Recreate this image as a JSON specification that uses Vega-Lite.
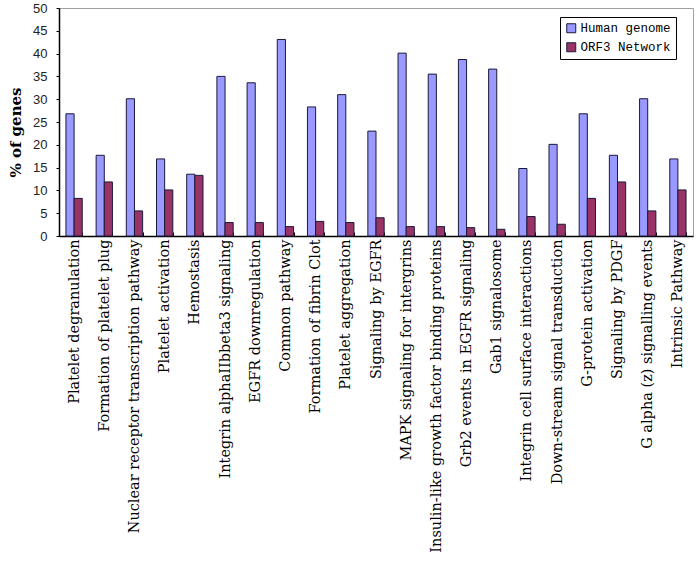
{
  "$schema": "https://vega.github.io/schema/vega-lite/v6.json",
  "width": 634,
  "height": 228,
  "autosize": "none",
  "padding": {"left": 59, "top": 8, "right": 5, "bottom": 328},
  "background": "white",
  "config": {
    "view": {"stroke": "#a0a0a0", "strokeWidth": 1},
    "axis": {"grid": false}
  },
  "data": {
    "values": [
      {"pathway": "Platelet degranulation", "series": "Human genome", "value": 26.8},
      {"pathway": "Platelet degranulation", "series": "ORF3 Network", "value": 8.25},
      {"pathway": "Formation of platelet plug", "series": "Human genome", "value": 17.7},
      {"pathway": "Formation of platelet plug", "series": "ORF3 Network", "value": 11.85},
      {"pathway": "Nuclear receptor transcription pathway", "series": "Human genome", "value": 30.1},
      {"pathway": "Nuclear receptor transcription pathway", "series": "ORF3 Network", "value": 5.5},
      {"pathway": "Platelet activation", "series": "Human genome", "value": 16.9},
      {"pathway": "Platelet activation", "series": "ORF3 Network", "value": 10.1},
      {"pathway": "Hemostasis", "series": "Human genome", "value": 13.55},
      {"pathway": "Hemostasis", "series": "ORF3 Network", "value": 13.3},
      {"pathway": "Integrin alphaIIbbeta3 signaling", "series": "Human genome", "value": 35.0},
      {"pathway": "Integrin alphaIIbbeta3 signaling", "series": "ORF3 Network", "value": 2.95},
      {"pathway": "EGFR downregulation", "series": "Human genome", "value": 33.6},
      {"pathway": "EGFR downregulation", "series": "ORF3 Network", "value": 2.95},
      {"pathway": "Common pathway", "series": "Human genome", "value": 43.1},
      {"pathway": "Common pathway", "series": "ORF3 Network", "value": 2.06},
      {"pathway": "Formation of fibrin Clot", "series": "Human genome", "value": 28.3},
      {"pathway": "Formation of fibrin Clot", "series": "ORF3 Network", "value": 3.2},
      {"pathway": "Platelet aggregation", "series": "Human genome", "value": 31.0},
      {"pathway": "Platelet aggregation", "series": "ORF3 Network", "value": 2.95},
      {"pathway": "Signaling by EGFR", "series": "Human genome", "value": 23.0},
      {"pathway": "Signaling by EGFR", "series": "ORF3 Network", "value": 4.0},
      {"pathway": "MAPK signaling for intergrins", "series": "Human genome", "value": 40.1},
      {"pathway": "MAPK signaling for intergrins", "series": "ORF3 Network", "value": 2.06},
      {"pathway": "Insulin-like growth factor binding proteins", "series": "Human genome", "value": 35.5},
      {"pathway": "Insulin-like growth factor binding proteins", "series": "ORF3 Network", "value": 2.06},
      {"pathway": "Grb2 events in EGFR signaling", "series": "Human genome", "value": 38.7},
      {"pathway": "Grb2 events in EGFR signaling", "series": "ORF3 Network", "value": 1.84},
      {"pathway": "Gab1  signalosome", "series": "Human genome", "value": 36.6},
      {"pathway": "Gab1  signalosome", "series": "ORF3 Network", "value": 1.47},
      {"pathway": "Integrin cell surface interactions", "series": "Human genome", "value": 14.8},
      {"pathway": "Integrin cell surface interactions", "series": "ORF3 Network", "value": 4.27},
      {"pathway": "Down-stream signal transduction", "series": "Human genome", "value": 20.1},
      {"pathway": "Down-stream signal transduction", "series": "ORF3 Network", "value": 2.58},
      {"pathway": "G-protein activation", "series": "Human genome", "value": 26.8},
      {"pathway": "G-protein activation", "series": "ORF3 Network", "value": 8.25},
      {"pathway": "Signaling by PDGF", "series": "Human genome", "value": 17.7},
      {"pathway": "Signaling by PDGF", "series": "ORF3 Network", "value": 11.85},
      {"pathway": "G alpha (z) signalling events", "series": "Human genome", "value": 30.1},
      {"pathway": "G alpha (z) signalling events", "series": "ORF3 Network", "value": 5.5},
      {"pathway": "Intrinsic Pathway", "series": "Human genome", "value": 16.9},
      {"pathway": "Intrinsic Pathway", "series": "ORF3 Network", "value": 10.1}
    ]
  },
  "mark": {"type": "bar", "stroke": "#1a1a3a", "strokeWidth": 1},
  "encoding": {
    "x": {
      "field": "pathway",
      "type": "nominal",
      "sort": null,
      "scale": {"paddingInner": 0.46, "paddingOuter": 0.23},
      "axis": {
        "title": null,
        "labelAngle": 270,
        "labelAlign": "right",
        "labelBaseline": "middle",
        "labelFont": "DejaVu Serif",
        "labelFontSize": 14.5,
        "labelColor": "black",
        "labelPadding": 7,
        "labelLimit": 400,
        "tickBand": "extent",
        "tickSize": -4,
        "tickColor": "black",
        "domainColor": "black",
        "domainWidth": 1.5
      }
    },
    "xOffset": {"field": "series", "type": "nominal", "sort": null},
    "y": {
      "field": "value",
      "type": "quantitative",
      "scale": {"domain": [0, 50], "nice": false},
      "axis": {
        "title": "% of genes",
        "titleFont": "DejaVu Serif",
        "titleFontSize": 15,
        "titleFontWeight": "bold",
        "titleColor": "black",
        "titleX": -44,
        "titleY": 124,
        "titleAngle": 270,
        "titleAlign": "center",
        "titleBaseline": "middle",
        "values": [0, 5, 10, 15, 20, 25, 30, 35, 40, 45, 50],
        "labelFont": "Liberation Sans",
        "labelFontSize": 13,
        "labelColor": "#222",
        "labelPadding": 9,
        "tickSize": 3,
        "tickColor": "black",
        "domainColor": "black",
        "domainWidth": 1.5
      }
    },
    "color": {
      "field": "series",
      "type": "nominal",
      "sort": null,
      "scale": {"range": ["#9999FF", "#993366"]},
      "legend": {
        "title": null,
        "orient": "none",
        "legendX": 501,
        "legendY": 9,
        "symbolType": "square",
        "symbolSize": 81,
        "symbolStrokeColor": "#1a1a3a",
        "symbolStrokeWidth": 1,
        "labelFont": "Liberation Mono",
        "labelFontSize": 12.5,
        "labelColor": "black",
        "labelOffset": 3,
        "rowPadding": 5,
        "padding": 5,
        "strokeColor": "black",
        "fillColor": "white"
      }
    }
  }
}
